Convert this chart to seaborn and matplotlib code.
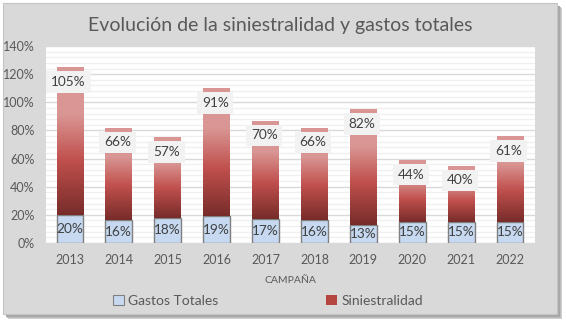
import numpy as np
import pandas as pd
import matplotlib
matplotlib.use("Agg")
import matplotlib.pyplot as plt
import seaborn as sns
from matplotlib.colors import LinearSegmentedColormap
from matplotlib.patches import Rectangle, Patch
from matplotlib.ticker import MultipleLocator, FuncFormatter

# ---- data ----
years = ['2013', '2014', '2015', '2016', '2017', '2018', '2019', '2020', '2021', '2022']
gastos_totales = [20, 16, 18, 19, 17, 16, 13, 15, 15, 15]
siniestralidad = [105, 66, 57, 91, 70, 66, 82, 44, 40, 61]

title = 'Evolución de la siniestralidad y gastos totales'
xlabel = 'CAMPAÑA'
series_names = ['Gastos Totales', 'Siniestralidad']

df = pd.DataFrame({'year': years, 'gastos': gastos_totales, 'sin': siniestralidad})

sns.set_theme(style='white')
plt.rcParams['font.family'] = ['Lato', 'DejaVu Sans']

W, H = 566, 323
fig = plt.figure(figsize=(W / 100, H / 100), dpi=100)
fig.patch.set_facecolor('white')

# shadow + panel
for off, col in [(5, '#d0d0d0'), (4, '#bcbcbc'), (3, '#a8a8a8')]:
    fig.patches.append(Rectangle(((3 + off) / W, 1 - (314 + off) / H), 554 / W, (311 - 0) / H,
                                 transform=fig.transFigure, facecolor=col, edgecolor='none', zorder=-3))
fig.patches.append(Rectangle((3 / W, 1 - 314 / H), 554 / W, 311 / H, transform=fig.transFigure,
                             facecolor='#d9d9d9', edgecolor='#c4c4c4', lw=0.8, zorder=-2))

ax = fig.add_axes([45.5 / W, (H - 243) / H, 489 / W, 197 / H])
ax.set_facecolor('white')

bw = 0.55
sns.barplot(data=df, x='year', y='gastos', color='#c6d9f1', saturation=1, edgecolor='#7f7f7f',
            linewidth=1, width=bw, errorbar=None, ax=ax, zorder=3)
sns.barplot(data=df, x='year', y='sin', color='#c0504d', saturation=1, linewidth=0,
            width=bw, errorbar=None, ax=ax, zorder=3, bottom=df['gastos'].to_numpy())

cmap = LinearSegmentedColormap.from_list('red_grad', [(0.0, '#772c2a'), (0.37, '#c0504d'),
                                                      (0.68, '#d99694'), (1.0, '#d99694')])
grad = np.linspace(0, 1, 256).reshape(-1, 1)
for p in ax.containers[1]:
    x0, y0 = p.get_x(), p.get_y()
    w, h = p.get_width(), p.get_height()
    p.set_facecolor('none')
    im = ax.imshow(grad, extent=[x0, x0 + w, y0, y0 + h], origin='lower', aspect='auto',
                   cmap=cmap, zorder=3, interpolation='bilinear')
    im.set_clip_path(p)

for i, (g, s) in enumerate(zip(gastos_totales, siniestralidad)):
    ax.text(i, g / 2, f'{g}%', ha='center', va='center', fontsize=9.8, color='#404040', zorder=6)
    ax.annotate(f'{s}%', xy=(i, g + s), xytext=(-1, -10.6), textcoords='offset points',
                ha='center', va='center', fontsize=9.8, color='#404040', zorder=7,
                bbox=dict(boxstyle='square,pad=0.35', fc='#f2f2f2', ec='none'))

ax.set_xlim(-0.5, len(years) - 0.5)
ax.set_ylim(0, 140)
ax.yaxis.set_major_locator(MultipleLocator(20))
ax.yaxis.set_minor_locator(MultipleLocator(4))
ax.yaxis.set_major_formatter(FuncFormatter(lambda v, _: f'{v:.0f}%'))
ax.grid(True, axis='y', which='major', color='#d9d9d9', lw=1, zorder=0)
ax.grid(True, axis='y', which='minor', color='#f0f0f0', lw=1, zorder=0)
ax.set_axisbelow(True)
for sp in ax.spines.values():
    sp.set_visible(False)
ax.tick_params(axis='both', which='both', length=0, labelsize=9, labelcolor='#595959')
ax.tick_params(axis='y', pad=8)
ax.tick_params(axis='x', pad=8)
ax.set_ylabel('')
ax.set_xlabel(xlabel, fontsize=7.5, color='#595959', labelpad=7)

fig.text(280 / W, 1 - 25 / H, title, ha='center', va='center', fontsize=14, color='#595959')

handles = [Patch(facecolor='#c6d9f1', edgecolor='#7f7f7f', lw=0.8),
           Patch(facecolor='#b4453f', edgecolor='none')]
fig.legend(handles, series_names, loc='center', bbox_to_anchor=(268 / W, 1 - 301 / H), ncol=2,
           frameon=False, fontsize=10, handlelength=0.75, handleheight=0.75, handletextpad=0.3,
           columnspacing=7.8, labelcolor='#595959')

fig.savefig('out.png', dpi=100, facecolor=fig.get_facecolor())
